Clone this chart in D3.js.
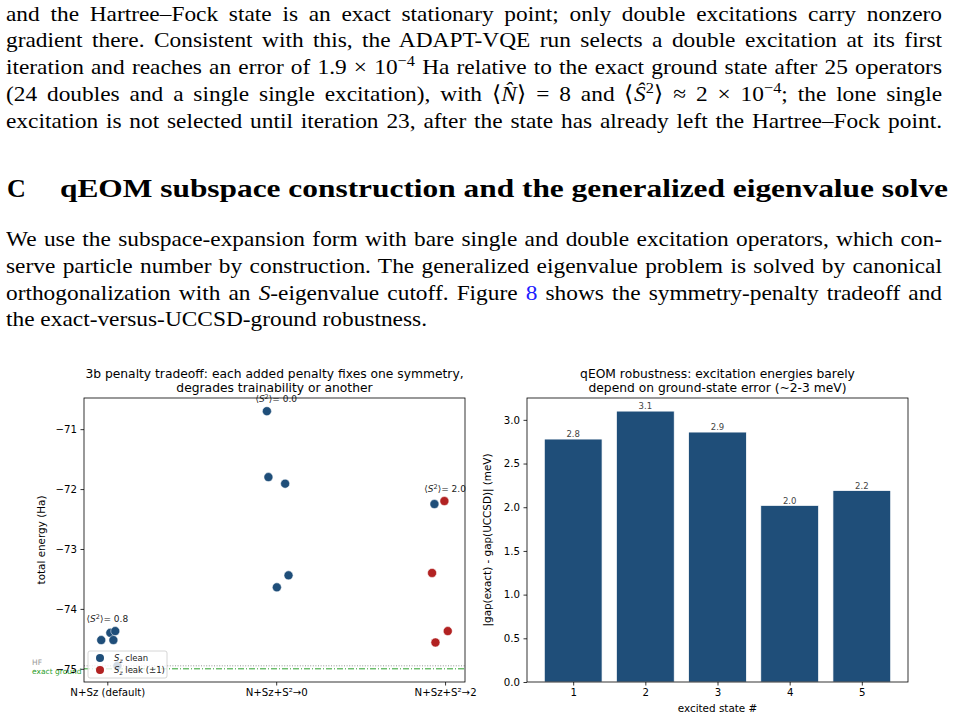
<!DOCTYPE html>
<html>
<head>
<meta charset="utf-8">
<script src="https://cdn.jsdelivr.net/npm/d3@7"></script>
<style>
  body { margin: 0; background: #fff; width: 955px; height: 719px; overflow: hidden; position: relative; }
  .txt { position: absolute; left: 6px; top: 0; font-family: "Liberation Serif", serif; font-size: 22px; color: #000; transform-origin: 0 0; }
  .ln { position: absolute; left: 0; line-height: 27px; text-align: justify; text-align-last: justify; }
  .ln.last { text-align: left; text-align-last: left; }
  .head { position: absolute; font-family: "Liberation Serif", serif; font-weight: bold; font-size: 26px; line-height: 30px; white-space: nowrap; transform-origin: 0 0; }
  sup { font-size: 0.7em; position: relative; top: -0.5em; vertical-align: baseline; line-height: 0; }
  .ref { color: #2020ff; }
  svg { position: absolute; left: 0; top: 0; }
  svg text { font-family: "DejaVu Sans", sans-serif; }
</style>
</head>
<body>
<div id="text"></div>
<div id="chart"></div>
<script>
// ---- page text (one entry per typeset line) ----
const para1 = [
  "and the Hartree–Fock state is an exact stationary point; only double excitations carry nonzero",
  "gradient there. Consistent with this, the ADAPT-VQE run selects a double excitation at its first",
  "iteration and reaches an error of 1.9 × 10<sup>−4</sup> Ha relative to the exact ground state after 25 operators",
  "(24 doubles and a single single excitation), with ⟨<i>N̂</i>⟩ = 8 and ⟨<i>Ŝ</i><sup>2</sup>⟩ ≈ 2 × 10<sup>−4</sup>; the lone single",
  "excitation is not selected until iteration 23, after the state has already left the Hartree–Fock point."
];
const headNum = "C";
const headText = "qEOM subspace construction and the generalized eigenvalue solve";
const para2 = [
  "We use the subspace-expansion form with bare single and double excitation operators, which con-",
  "serve particle number by construction. The generalized eigenvalue problem is solved by canonical",
  "orthogonalization with an <i>S</i>-eigenvalue cutoff. Figure <span class=\"ref\">8</span> shows the symmetry-penalty tradeoff and",
  "the exact-versus-UCCSD-ground robustness."
];

// ---- left chart: penalty tradeoff ----
const penaltyCategories = ["N+Sz (default)", "N+Sz+S²→0", "N+Sz+S²→2"];
const s2Values = ["0.8", "0.0", "2.0"];
const ptCategory = [0, 0, 0, 0, 0, 1, 1, 1, 1, 1, 2, 2, 2, 2, 2];
const ptJitter = [-0.036, 0.018, 0.047, 0.036, 0.06, -0.055, -0.046, 0.053, 0.073, 0.004, -0.063, -0.004, -0.077, 0.016, -0.057];
const ptEnergy = [-74.52, -74.40, -74.37, -74.52, -74.95, -70.70, -71.80, -71.91, -73.44, -73.64, -72.25, -72.20, -73.40, -74.37, -74.56];
const ptLeak = [0, 0, 0, 0, 0, 0, 0, 0, 0, 0, 0, 1, 1, 1, 1];
const hfEnergy = -74.95;
const exactEnergy = -75.0;
const energyTicks = [-75, -74, -73, -72, -71];

// ---- right chart: qEOM robustness ----
const excitedStates = [1, 2, 3, 4, 5];
const gapDiff = [2.78, 3.10, 2.86, 2.02, 2.19];
const gapTicks = [0, 0.5, 1.0, 1.5, 2.0, 2.5, 3.0];

const BLUE = "#1f4e79", RED = "#b22222", GREEN = "#2ca02c";

// ---------- text block ----------
function measure(str, font) {
  const c = measure.c || (measure.c = document.createElement("canvas").getContext("2d"));
  c.font = font;
  return c.measureText(str).width;
}
// stretch Times-like glyphs so the ragged last line matches the Computer Modern width
const scale = 421 / measure(para2[para2.length - 1], "22px 'Liberation Serif'");
const innerW = 936 / scale;

function addPara(lines, firstTop, lastRagged) {
  const box = d3.select("#text").append("div").attr("class", "txt")
    .style("top", firstTop + "px")
    .style("width", innerW + "px")
    .style("transform", `scaleX(${scale})`);
  lines.forEach((l, i) => {
    box.append("div")
      .attr("class", "ln" + (lastRagged && i === lines.length - 1 ? " last" : ""))
      .style("top", (i * 26.8) + "px")
      .style("width", innerW + "px")
      .html(l);
  });
}
addPara(para1, -0.5, false);
addPara(para2, 225, true);

const hw = measure(headText, "bold 26px 'Liberation Serif'");
d3.select("#text").append("div").attr("class", "head")
  .style("left", "7px").style("top", "174px").text(headNum);
d3.select("#text").append("div").attr("class", "head")
  .style("left", "60px").style("top", "174px")
  .style("transform", `scaleX(${888 / hw})`).text(headText);

// ---------- charts ----------
const svg = d3.select("#chart").append("svg").attr("width", 955).attr("height", 719);

function styleAxis(g) {
  g.select(".domain").remove();
  g.selectAll(".tick line").attr("stroke", "#000").attr("stroke-width", 0.8);
  g.selectAll(".tick text").attr("fill", "#000").style("font-size", "10.2px").style("font-family", "DejaVu Sans");
}

function frame(b) {
  svg.append("rect").attr("x", b.left).attr("y", b.top)
    .attr("width", b.right - b.left).attr("height", b.bottom - b.top)
    .attr("fill", "none").attr("stroke", "#000").attr("stroke-width", 0.8);
}

function title(lines, cx) {
  lines.forEach((t, i) => {
    svg.append("text").attr("x", cx).attr("y", 378 + i * 13.8)
      .attr("text-anchor", "middle").style("font-size", "12.3px").attr("fill", "#000").text(t);
  });
}

// left
const L = { left: 84, top: 398, right: 465, bottom: 682 };
const lx = d3.scaleLinear().domain([-0.138, 2.118]).range([L.left, L.right]);
const ly = d3.scaleLinear().domain([-75.22, -70.48]).range([L.bottom, L.top]);

svg.append("line").attr("x1", L.left).attr("x2", L.right)
  .attr("y1", ly(hfEnergy)).attr("y2", ly(hfEnergy))
  .attr("stroke", "#888").attr("stroke-width", 0.9).attr("stroke-dasharray", "1,1.6");
svg.append("line").attr("x1", L.left).attr("x2", L.right)
  .attr("y1", ly(exactEnergy)).attr("y2", ly(exactEnergy))
  .attr("stroke", GREEN).attr("stroke-width", 1).attr("stroke-dasharray", "6,2,1,2");

const pts = ptEnergy.map((e, i) => ({ c: ptCategory[i], j: ptJitter[i], e, leak: ptLeak[i] }));
svg.append("g").selectAll("circle").data(pts).join("circle")
  .attr("cx", d => lx(d.c + d.j))
  .attr("cy", d => ly(d.e))
  .attr("r", 4.5)
  .attr("fill", d => d.leak ? RED : BLUE)
  .attr("stroke", "#fff").attr("stroke-width", 0.5);

// <S^2> annotations above each group
penaltyCategories.forEach((c, i) => {
  const top = d3.max(pts.filter(p => p.c === i), p => p.e);
  const t = svg.append("text").attr("x", lx(i)).attr("y", ly(top + 0.15))
    .attr("text-anchor", "middle").style("font-size", "9px").attr("fill", "#222");
  t.append("tspan").text("⟨");
  t.append("tspan").style("font-style", "italic").text("S");
  t.append("tspan").attr("dy", -3.5).style("font-size", "6.5px").text("2");
  t.append("tspan").attr("dy", 3.5).text("⟩= " + s2Values[i]);
});

// HF / exact ground labels left of the axes
svg.append("text").attr("x", 32).attr("y", 665).style("font-size", "7.5px").attr("fill", "#999").text("HF");
svg.append("text").attr("x", 32).attr("y", 674).style("font-size", "7.5px").attr("fill", GREEN).text("exact ground");

svg.append("g").attr("transform", `translate(0,${L.bottom})`)
  .call(d3.axisBottom(lx).tickValues([0, 1, 2]).tickFormat(i => penaltyCategories[i]).tickSize(3.5).tickPadding(3.5))
  .call(styleAxis);
svg.append("g").attr("transform", `translate(${L.left},0)`)
  .call(d3.axisLeft(ly).tickValues(energyTicks).tickFormat(d3.format("d")).tickSize(3.5).tickPadding(3.5))
  .call(styleAxis);
frame(L);

// legend
const lg = svg.append("g").attr("transform", "translate(88,651)");
lg.append("rect").attr("width", 79).attr("height", 27).attr("rx", 2)
  .attr("fill", "#fff").attr("fill-opacity", 0.8).attr("stroke", "#ccc").attr("stroke-width", 0.8);
[["clean", BLUE], ["leak (±1)", RED]].forEach(([lab, col], i) => {
  lg.append("circle").attr("cx", 12).attr("cy", 7 + i * 12).attr("r", 4).attr("fill", col);
  const t = lg.append("text").attr("x", 26).attr("y", 10 + i * 12).style("font-size", "8.5px").attr("fill", "#222");
  t.append("tspan").style("font-style", "italic").text("S");
  t.append("tspan").attr("dy", 2).style("font-size", "6px").style("font-style", "italic").text("z");
  t.append("tspan").attr("dy", -2).text(" " + lab);
});

svg.append("text").attr("transform", `translate(45,${(L.top + L.bottom) / 2}) rotate(-90)`)
  .attr("text-anchor", "middle").style("font-size", "10.4px").attr("fill", "#000").text("total energy (Ha)");
title(["3b penalty tradeoff: each added penalty fixes one symmetry,", "degrades trainability or another"], (L.left + L.right) / 2);

// right
const R = { left: 527, top: 398, right: 908, bottom: 682 };
const rx = d3.scaleLinear().domain([0.36, 5.64]).range([R.left, R.right]);
const ry = d3.scaleLinear().domain([0, 3.25]).range([R.bottom, R.top]);
const barW = rx(0.8) - rx(0);

const bars = excitedStates.map((s, i) => ({ s, v: gapDiff[i] }));
svg.append("g").selectAll("rect").data(bars).join("rect")
  .attr("x", d => rx(d.s) - barW / 2)
  .attr("y", d => ry(d.v))
  .attr("width", barW)
  .attr("height", d => ry(0) - ry(d.v))
  .attr("fill", BLUE).attr("stroke", "#fff").attr("stroke-width", 0.7);
svg.append("g").selectAll("text").data(bars).join("text")
  .attr("x", d => rx(d.s)).attr("y", d => ry(d.v) - 1.8)
  .attr("text-anchor", "middle").style("font-size", "8.5px").attr("fill", "#444")
  .text(d => d3.format(".1f")(d.v));

svg.append("g").attr("transform", `translate(0,${R.bottom})`)
  .call(d3.axisBottom(rx).tickValues(excitedStates).tickFormat(d3.format("d")).tickSize(3.5).tickPadding(3.5))
  .call(styleAxis);
svg.append("g").attr("transform", `translate(${R.left},0)`)
  .call(d3.axisLeft(ry).tickValues(gapTicks).tickFormat(d3.format(".1f")).tickSize(3.5).tickPadding(3.5))
  .call(styleAxis);
frame(R);

svg.append("text").attr("transform", `translate(491,${(R.top + R.bottom) / 2}) rotate(-90)`)
  .attr("text-anchor", "middle").style("font-size", "10.4px").attr("fill", "#000").text("|gap(exact) - gap(UCCSD)| (meV)");
svg.append("text").attr("x", (R.left + R.right) / 2).attr("y", 712)
  .attr("text-anchor", "middle").style("font-size", "10.4px").attr("fill", "#000").text("excited state #");
title(["qEOM robustness: excitation energies barely", "depend on ground-state error (~2-3 meV)"], (R.left + R.right) / 2);
</script>
</body>
</html>
